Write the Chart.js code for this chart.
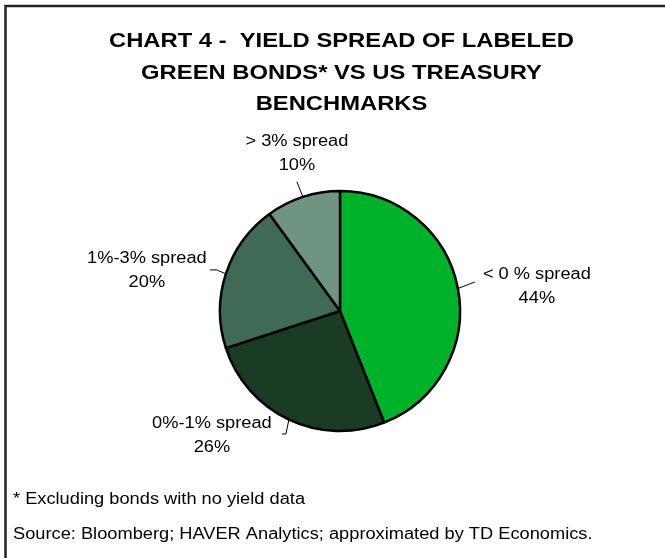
<!DOCTYPE html>
<html lang="en">
<head>
  <meta charset="UTF-8" />
  <title>Chart 4 - Yield Spread of Labeled Green Bonds vs US Treasury Benchmarks</title>
  <script src="https://cdn.jsdelivr.net/npm/chart.js"></script>
  <style>
    html, body { margin: 0; padding: 0; background: #fff; }
    canvas { display: block; }
  </style>
</head>
<body>
  <canvas id="spreadChart" width="665" height="558"></canvas>

  <script>
    // share of labeled green bonds by yield spread over treasuries (%)
    const categories = ['< 0 % spread', '0%-1% spread', '1%-3% spread', '> 3% spread'];
    const shares = [44, 26, 20, 10];

    const titleLines = [
      'CHART 4 -  YIELD SPREAD OF LABELED',
      'GREEN BONDS* VS US TREASURY',
      'BENCHMARKS'
    ];
    const footnotes = [
      '* Excluding bonds with no yield data',
      'Source: Bloomberg; HAVER Analytics; approximated by TD Economics.'
    ];

    const sliceColors = ['#00B22A', '#1A3B24', '#3F6B56', '#6F9582'];

    // where each label sits, measured from the slice's outer edge at its mid angle
    const labelOffsets = [
      { dx: 79, dy: -9.5, leader: [[17, -6.5]] },
      { dx: -77, dy: 8.5, leader: [[-3, 14.4], [-7, 14.4]] },
      { dx: -79, dy: -11, leader: [[-9, -4], [-16, -4]] },
      { dx: -6, dy: -51, leader: [[-6, -15]] }
    ];

    const FONT = '"Liberation Sans", Arial, sans-serif';

    // the text in this chart is set slightly wide
    function wideText(ctx, text, x, y, scaleX, align) {
      ctx.save();
      ctx.translate(x, y);
      ctx.scale(scaleX, 1);
      ctx.textAlign = align;
      ctx.fillText(text, 0, 0);
      ctx.restore();
    }

    const decorations = {
      id: 'decorations',
      afterDraw(chart) {
        const ctx = chart.ctx;
        ctx.save();

        // frame (right and bottom edges fall outside the canvas)
        ctx.strokeStyle = '#222';
        ctx.lineWidth = 2.5;
        ctx.strokeRect(5.5, 6, 700, 600);

        ctx.fillStyle = '#000';
        ctx.textBaseline = 'alphabetic';

        ctx.font = 'bold 20.5px ' + FONT;
        titleLines.forEach((line, i) => {
          wideText(ctx, line, 341.5, 47 + i * 31.5, 1.16, 'center');
        });

        ctx.font = '16px ' + FONT;
        footnotes.forEach((line, i) => {
          wideText(ctx, line, 13, 504 + i * 35, 1.14, 'left');
        });

        // slice labels with leader lines
        const arcs = chart.getDatasetMeta(0).data;
        arcs.forEach((arc, i) => {
          const mid = (arc.startAngle + arc.endAngle) / 2;
          const ex = arc.x + Math.cos(mid) * arc.outerRadius;
          const ey = arc.y + Math.sin(mid) * arc.outerRadius;
          const off = labelOffsets[i];

          ctx.strokeStyle = '#000';
          ctx.lineWidth = 1;
          ctx.beginPath();
          ctx.moveTo(ex, ey);
          off.leader.forEach(p => ctx.lineTo(ex + p[0], ey + p[1]));
          ctx.stroke();

          ctx.fillStyle = '#000';
          wideText(ctx, categories[i], ex + off.dx, ey + off.dy, 1.14, 'center');
          wideText(ctx, shares[i] + '%', ex + off.dx, ey + off.dy + 24, 1.14, 'center');
        });

        ctx.restore();
      }
    };

    new Chart(document.getElementById('spreadChart'), {
      type: 'pie',
      data: {
        labels: categories,
        datasets: [{
          data: shares,
          backgroundColor: sliceColors,
          borderColor: '#000',
          borderWidth: 2.5,
          radius: 120
        }]
      },
      options: {
        responsive: false,
        animation: false,
        layout: { padding: { left: 115, right: 100, top: 170, bottom: 106 } },
        plugins: {
          legend: { display: false },
          title: { display: false },
          tooltip: { enabled: false }
        }
      },
      plugins: [decorations]
    });
  </script>
</body>
</html>
